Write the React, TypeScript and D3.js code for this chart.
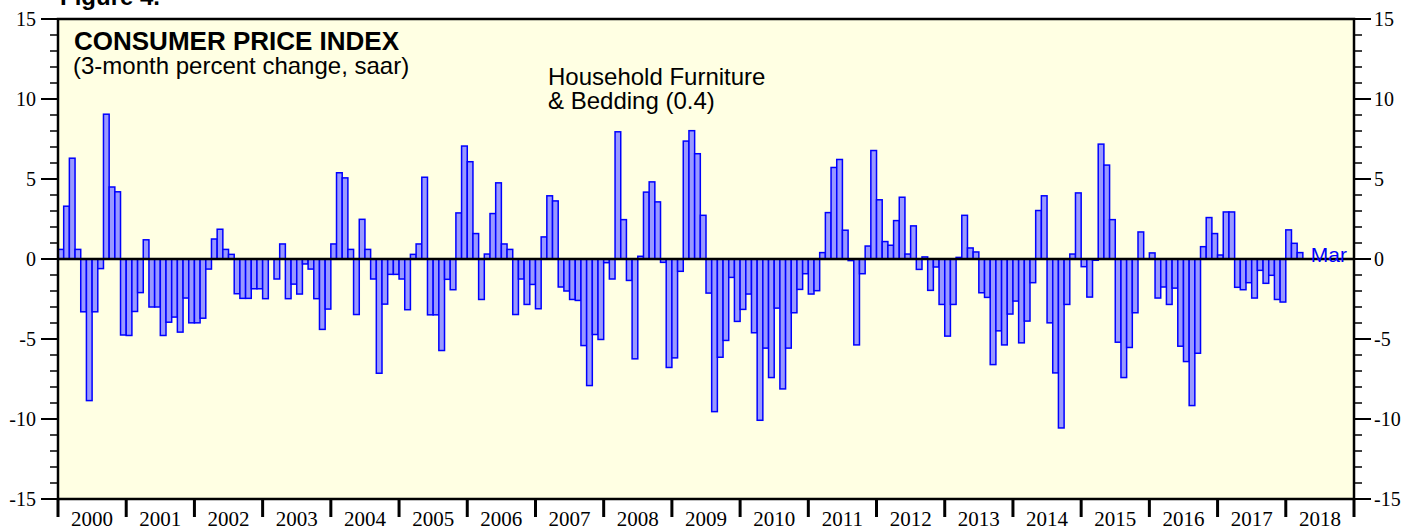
import React from "react";
import * as d3 from "d3";

// Monthly values, 3-month percent change saar (Household Furniture & Bedding)
const dec1999 = -4.5;
const v2000 = [0.6, 3.3, 6.3, 0.6, -3.3, -8.85, -3.3, -0.6, 9.05, 4.5, 4.2, -4.75];
const v2001 = [-4.78, -3.28, -2.1, 1.2, -3.0, -3.0, -4.78, -3.95, -3.63, -4.57, -2.44, -3.99];
const v2002 = [-3.99, -3.7, -0.63, 1.25, 1.86, 0.6, 0.29, -2.17, -2.46, -2.46, -1.86, -1.86];
const v2003 = [-2.48, 0.0, -1.25, 0.94, -2.48, -1.57, -2.19, -0.31, -0.63, -2.48, -4.4, -3.13];
const v2004 = [0.94, 5.39, 5.07, 0.6, -3.47, 2.48, 0.6, -1.25, -7.14, -2.82, -0.96, -0.96];
const v2005 = [-1.25, -3.17, 0.29, 0.94, 5.11, -3.49, -3.49, -5.72, -1.27, -1.92, 2.88, 7.06];
const v2006 = [6.08, 1.59, -2.53, 0.31, 2.84, 4.76, 0.94, 0.6, -3.47, -1.25, -2.84, -1.59];
const v2007 = [-3.11, 1.38, 3.95, 3.63, -1.75, -2.0, -2.53, -2.59, -5.41, -7.91, -4.72, -5.03];
const v2008 = [-0.23, -1.25, 7.95, 2.46, -1.34, -6.24, 0.17, 4.18, 4.82, 3.57, -0.21, -6.78];
const v2009 = [-6.18, -0.77, 7.37, 8.02, 6.58, 2.73, -2.13, -9.54, -6.14, -5.09, -1.15, -3.9];
const v2010 = [-3.15, -2.19, -4.61, -10.08, -5.57, -7.41, -3.07, -8.12, -5.57, -3.36, -1.9, -0.92];
const v2011 = [-2.19, -1.98, 0.4, 2.9, 5.72, 6.22, 1.8, -0.1, -5.37, -0.92, 0.81, 6.78];
const v2012 = [3.7, 1.09, 0.86, 2.4, 3.86, 0.31, 2.07, -0.65, 0.13, -1.96, -0.5, -2.84];
const v2013 = [-4.82, -2.84, 0.1, 2.73, 0.69, 0.44, -2.11, -2.4, -6.6, -4.49, -5.37, -3.44];
const v2014 = [-2.63, -5.24, -3.88, -1.48, 3.03, 3.95, -3.99, -7.12, -10.56, -2.84, 0.31, 4.13];
const v2015 = [-0.48, -2.38, -0.08, 7.18, 5.87, 2.46, -5.2, -7.41, -5.53, -3.36, 1.69, 0.0];
const v2016 = [0.38, -2.44, -1.75, -2.84, -1.82, -5.45, -6.41, -9.16, -5.89, 0.77, 2.59, 1.59];
const v2017 = [0.25, 2.94, 2.94, -1.77, -1.92, -1.48, -2.44, -0.71, -1.52, -1.02, -2.53, -2.69];
const v2018 = [1.82, 0.98, 0.4];

const yearLabels = [
  "2000", "2001", "2002", "2003", "2004", "2005", "2006", "2007", "2008", "2009",
  "2010", "2011", "2012", "2013", "2014", "2015", "2016", "2017", "2018",
];
const yTickLabels = [15, 10, 5, 0, -5, -10, -15];

const values: number[] = [
  ...v2000, ...v2001, ...v2002, ...v2003, ...v2004, ...v2005, ...v2006, ...v2007,
  ...v2008, ...v2009, ...v2010, ...v2011, ...v2012, ...v2013, ...v2014, ...v2015,
  ...v2016, ...v2017, ...v2018,
];
// month index -1 = Dec 1999 (clipped at left edge)
const bars = [{ i: -1, v: dec1999 }, ...values.map((v, i) => ({ i, v }))];

const W = 1406;
const H = 529;
const L = 58;
const R = 1354;
const T = 19;
const B = 499;

const x = d3.scaleLinear().domain([0, yearLabels.length * 12]).range([L, R]);
const y = d3.scaleLinear().domain([-15, 15]).range([B, T]);

const serif = "'Liberation Serif', 'Times New Roman', serif";
const sans = "'Liberation Sans', Arial, Helvetica, sans-serif";

export default function App() {
  const minorTicks = d3.range(-15, 16, 1);
  const lastI = values.length - 1;
  return (
    <svg
      width={W}
      height={H}
      style={{ position: "absolute", left: 0, top: 0, background: "#ffffff" }}
    >
      <defs>
        <clipPath id="plotClip">
          <rect x={L} y={T} width={R - L} height={B - T} />
        </clipPath>
      </defs>
      <text x={60} y={5} fontFamily={sans} fontWeight="bold" fontSize={24} fill="#000">
        Figure 4.
      </text>
      <rect x={L} y={T} width={R - L} height={B - T} fill="#ffffe3" />

      <g clipPath="url(#plotClip)">
        {bars.map((d) => {
          const x0 = x(d.i);
          const x1 = x(d.i + 1);
          const y0 = y(Math.max(0, d.v));
          const y1 = y(Math.min(0, d.v));
          return (
            <rect
              key={d.i}
              x={x0}
              y={y0}
              width={x1 - x0}
              height={Math.max(0, y1 - y0)}
              fill="#9999ff"
              stroke="#0000ff"
              strokeWidth={1.5}
            />
          );
        })}
      </g>
      <line x1={L} x2={R} y1={y(0)} y2={y(0)} stroke="#000" strokeWidth={2.5} />

      {/* axes ticks */}
      {minorTicks.map((t) => {
        const major = t % 5 === 0;
        return (
          <g key={t}>
            <line
              x1={L - (major ? 17 : 8)}
              x2={L}
              y1={y(t)}
              y2={y(t)}
              stroke="#000"
              strokeWidth={major ? 2 : 1.5}
            />
            <line
              x1={R}
              x2={R + (major ? 17 : 8)}
              y1={y(t)}
              y2={y(t)}
              stroke="#000"
              strokeWidth={major ? 2 : 1.5}
            />
          </g>
        );
      })}
      {yTickLabels.map((t) => (
        <g key={"l" + t}>
          <text x={36} y={y(t) + 7} textAnchor="end" fontFamily={serif} fontSize={20} fill="#000">
            {t}
          </text>
          <text x={1374} y={y(t) + 7} textAnchor="start" fontFamily={serif} fontSize={20} fill="#000">
            {t}
          </text>
        </g>
      ))}

      {/* year ticks and labels */}
      {d3.range(0, yearLabels.length + 1).map((k) => (
        <line
          key={"yt" + k}
          x1={x(k * 12)}
          x2={x(k * 12)}
          y1={B}
          y2={B + 18}
          stroke="#000"
          strokeWidth={3}
        />
      ))}
      {yearLabels.map((lab, k) => (
        <text
          key={lab}
          x={x(k * 12 + 6)}
          y={526}
          textAnchor="middle"
          fontFamily={serif}
          fontSize={21}
          fill="#000"
        >
          {lab}
        </text>
      ))}

      {/* frame */}
      <rect x={L} y={T} width={R - L} height={B - T} fill="none" stroke="#000" strokeWidth={2.5} />

      {/* titles */}
      <text x={74} y={50} fontFamily={sans} fontWeight="bold" fontSize={26} fill="#000">
        CONSUMER PRICE INDEX
      </text>
      <text x={73} y={74} fontFamily={sans} fontSize={24} fill="#000">
        (3-month percent change, saar)
      </text>
      <text x={548} y={85} fontFamily={sans} fontSize={24} fill="#000">
        Household Furniture
      </text>
      <text x={548} y={109} fontFamily={sans} fontSize={24} fill="#000">
        {"& Bedding (0.4)"}
      </text>
      <text x={x(lastI + 1) + 8} y={y(0) + 3} fontFamily={sans} fontSize={21} fill="#0000ff">
        Mar
      </text>
    </svg>
  );
}
